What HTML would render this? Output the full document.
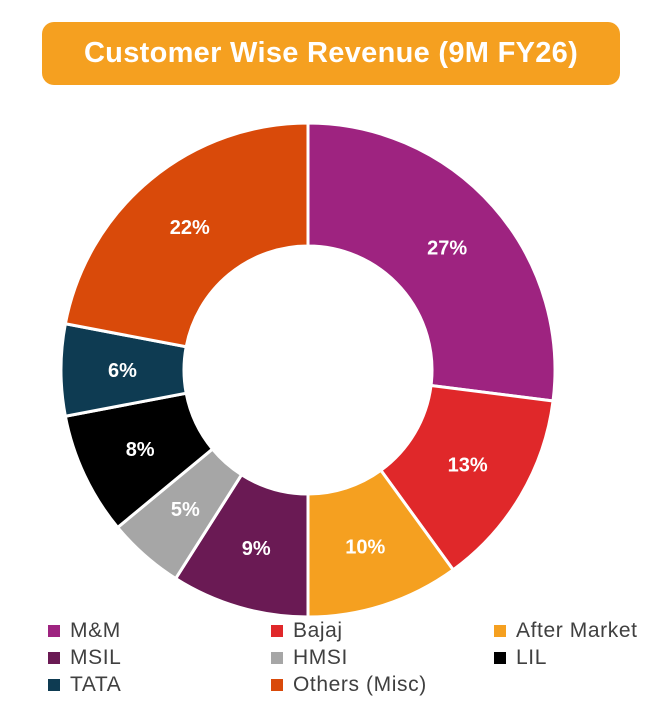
<!DOCTYPE html>
<html><head><meta charset="utf-8"><style>
body{margin:0;width:656px;height:728px;background:#fff;font-family:"Liberation Sans",sans-serif;overflow:hidden;position:relative}
#title{position:absolute;left:42px;top:22px;width:578px;height:63px;background:#F5A020;border-radius:12px;color:#fff;font-weight:bold;font-size:29px;letter-spacing:0.3px;text-align:center;line-height:63px}
.leg{position:absolute;font-size:21px;letter-spacing:0.6px;color:#404040;display:flex;align-items:center}
.leg span.sw{width:12px;height:12px;display:inline-block;margin-right:10px}
</style></head><body>
<div id="title">Customer Wise Revenue (9M FY26)</div>
<svg id="chart" width="656" height="728" style="position:absolute;left:0;top:0"></svg>
<div id="legend"></div>
<script>
const categories=["M&M","Bajaj","After Market","MSIL","HMSI","LIL","TATA","Others (Misc)"];
const values=[27,13,10,9,5,8,6,22];
const colors=["#9E2380","#E0282A","#F5A020","#6A1A54","#A6A6A6","#000000","#0E3B52","#D94A0A"];
const svg=document.getElementById('chart');
const cx=308,cy=370,R=247,r=124,NS="http://www.w3.org/2000/svg";
const total=values.reduce((a,b)=>a+b,0);
let a0=0;
function pt(a,rad){return [cx+rad*Math.sin(a),cy-rad*Math.cos(a)];}
values.forEach((v,i)=>{
  const a1=a0+v/total*2*Math.PI;
  const large=(a1-a0)>Math.PI?1:0;
  const [x1,y1]=pt(a0,R),[x2,y2]=pt(a1,R),[x3,y3]=pt(a1,r),[x4,y4]=pt(a0,r);
  const p=document.createElementNS(NS,'path');
  p.setAttribute('d',`M${x1},${y1}A${R},${R} 0 ${large} 1 ${x2},${y2}L${x3},${y3}A${r},${r} 0 ${large} 0 ${x4},${y4}Z`);
  p.setAttribute('fill',colors[i]);p.setAttribute('stroke','#fff');p.setAttribute('stroke-width','3');
  
  
  svg.appendChild(p);
  const [tx,ty]=pt((a0+a1)/2,(R+r)/2);
  const t=document.createElementNS(NS,'text');
  t.setAttribute('x',tx);t.setAttribute('y',ty+7);t.setAttribute('text-anchor','middle');
  t.setAttribute('fill','#fff');t.setAttribute('font-size','20');t.setAttribute('font-weight','bold');
  t.setAttribute('font-family','Liberation Sans, sans-serif');
  t.textContent=v+'%';
  
  
  svg.appendChild(t);
  a0=a1;
});
const leg=document.getElementById('legend');
const colX=[48,271,494],rowY=[619,646,673];
categories.forEach((c,i)=>{
  const d=document.createElement('div');
  d.className='leg';
  d.style.left=colX[i%3]+'px';d.style.top=rowY[Math.floor(i/3)]+'px';
  d.innerHTML='<span class="sw" style="background:'+colors[i]+'"></span>'+c.replace('&','&amp;');
  
  
  leg.appendChild(d);
});
</script>
</body></html>
